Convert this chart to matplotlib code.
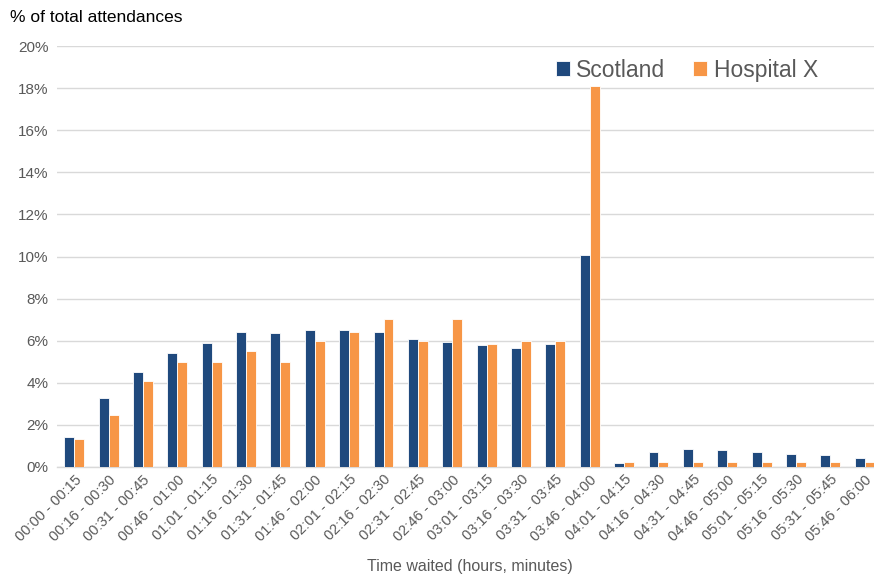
import matplotlib
matplotlib.use("Agg")
import matplotlib.pyplot as plt
import numpy as np

plt.rcParams['font.family'] = ['Liberation Sans', 'DejaVu Sans']

categories = ["00:00 - 00:15", "00:16 - 00:30", "00:31 - 00:45", "00:46 - 01:00",
              "01:01 - 01:15", "01:16 - 01:30", "01:31 - 01:45", "01:46 - 02:00",
              "02:01 - 02:15", "02:16 - 02:30", "02:31 - 02:45", "02:46 - 03:00",
              "03:01 - 03:15", "03:16 - 03:30", "03:31 - 03:45", "03:46 - 04:00",
              "04:01 - 04:15", "04:16 - 04:30", "04:31 - 04:45", "04:46 - 05:00",
              "05:01 - 05:15", "05:16 - 05:30", "05:31 - 05:45", "05:46 - 06:00"]
scotland = [1.43, 3.3, 4.5, 5.4, 5.9, 6.4, 6.35, 6.5, 6.5, 6.4, 6.1, 5.95,
            5.8, 5.65, 5.85, 10.05, 0.2, 0.7, 0.85, 0.8, 0.7, 0.6, 0.55, 0.45]
hospital = [1.35, 2.45, 4.1, 5.0, 5.0, 5.5, 5.0, 6.0, 6.4, 7.05, 6.0, 7.05,
            5.85, 6.0, 6.0, 18.1, 0.25, 0.25, 0.25, 0.25, 0.25, 0.25, 0.25, 0.25]
yticks = [0, 2, 4, 6, 8, 10, 12, 14, 16, 18, 20]

navy = "#1F497D"
orange = "#F79646"
grey = "#595959"

fig = plt.figure(figsize=(8.74, 5.79), dpi=100)
W, H = 874, 579
left, right, top, bottom = 57, 874, 46, 467
ax = fig.add_axes([left / W, 1 - bottom / H, (right - left) / W, (bottom - top) / H])

x = np.arange(len(categories))
bw = 0.29
ax.bar(x - bw / 2, scotland, bw, color=navy, edgecolor="white", linewidth=0.6, label="Scotland", zorder=3)
ax.bar(x + bw / 2, hospital, bw, color=orange, edgecolor="white", linewidth=0.6, label="Hospital X", zorder=3)

ax.set_ylim(0, 20)
ax.set_xlim(-0.5, 23.27)
ax.set_yticks(yticks)
ax.set_yticklabels([f"{t}%" for t in yticks], color=grey, fontsize=11)
ax.yaxis.grid(True, color="#D9D9D9", linewidth=1)
ax.set_axisbelow(True)
for s in ["top", "right", "left"]:
    ax.spines[s].set_visible(False)
ax.spines["bottom"].set_color("#D9D9D9")
ax.spines["bottom"].set_linewidth(1)
ax.tick_params(axis="both", length=0, pad=6)
ax.set_xticks(x)
ax.set_xticklabels(categories, rotation=45, ha="right", rotation_mode="anchor",
                   color=grey, fontsize=10.5)
ax.tick_params(axis="x", pad=4)

fig.text(10 / W, 1 - 18 / H, "% of total attendances", fontsize=12.5, color="black", va="center")
fig.text(470 / W, 1 - 567 / H, "Time waited (hours, minutes)", fontsize=11.5, color=grey,
         ha="center", va="center")

leg = ax.legend(loc="upper right", bbox_to_anchor=(0.951, 1.008),
                frameon=False, ncol=2, fontsize=16.5, handlelength=0.6, handleheight=0.6,
                handletextpad=0.3, columnspacing=1.2, borderaxespad=0.3)
for t in leg.get_texts():
    t.set_color(grey)

fig.savefig("out.png", dpi=100)
